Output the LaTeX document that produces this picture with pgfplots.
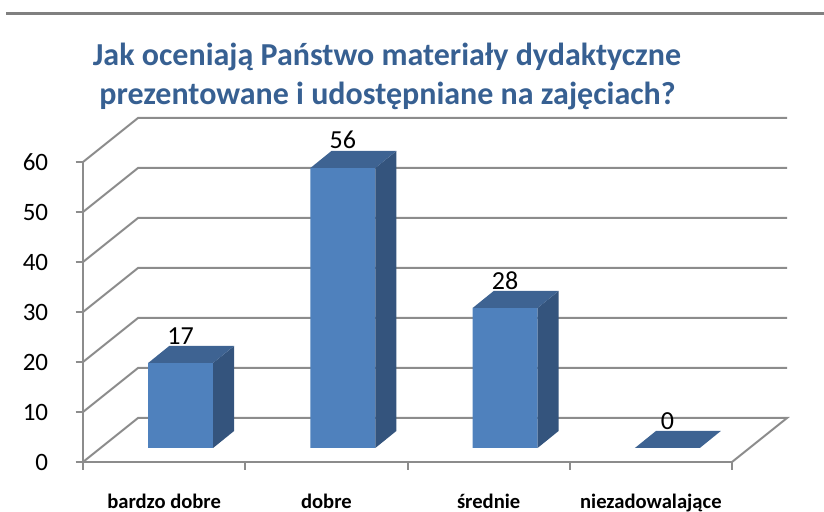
\documentclass[border=0pt]{standalone}
\usepackage{fontspec}
\setmainfont{Carlito}
\usepackage{pgfplots}
\pgfplotsset{compat=1.18}
\usepackage{pgfplotstable}

\definecolor{barfront}{RGB}{79,129,189}
\definecolor{bartop}{RGB}{62,99,146}
\definecolor{barside}{RGB}{52,84,125}
\definecolor{gridc}{RGB}{140,140,140}
\definecolor{titlec}{RGB}{55,96,146}

\pgfplotstableread{
x v
0 17
1 56
2 28
3 0
}\datatable

\pgfplotsset{/pgf/number format/assume math mode=true}

\begin{document}
\begin{tikzpicture}
\useasboundingbox (0,0) rectangle (412pt,256pt);
\draw[color={rgb,255:red,128;green,128;blue,128}, line width=1.1pt] (3pt,249.25pt) -- (412pt,249.25pt);
\node[anchor=base, inner sep=0pt, text=titlec, font=\fontsize{16}{19}\selectfont\bfseries] at (193.5pt,223pt) {Jak oceniają Państwo materiały dydaktyczne};
\node[anchor=base, inner sep=0pt, text=titlec, font=\fontsize{16}{19}\selectfont\bfseries] at (193.75pt,203.5pt) {prezentowane i udostępniane na zajęciach?};

% frame axis
\begin{axis}[
  at={(41.5pt,25pt)}, anchor=south west,
  scale only axis, width=324.5pt, height=150pt,
  xmin=-0.5, xmax=3.5, ymin=0, ymax=60,
  clip=false,
  axis lines*=left,
  axis line style={gridc, line width=1pt},
  xtick={0,1,2,3},
  xticklabels={bardzo dobre, dobre, średnie, niezadowalające},
  minor xtick={-0.5,0.5,1.5,2.5,3.5},
  ytick={0,10,20,30,40,50,60},
  tick align=outside,
  major tick length=3.75pt, minor tick length=4pt,
  major x tick style={draw=none},
  minor x tick style={gridc, line width=1pt},
  ytick style={gridc, line width=1pt},
  xticklabel style={font=\fontsize{10.3}{12}\selectfont\bfseries, anchor=base, inner sep=0pt, yshift=-19.5pt},
  yticklabel style={font=\fontsize{12.5}{15}\selectfont, anchor=east, inner sep=0pt, xshift=-13.5pt},
]
\draw[gridc, line width=1pt] (axis cs:-0.5,0) -- (axis cs:-0.161,8.8) -- (axis cs:3.839,8.8) -- (axis cs:3.5,0);
\draw[gridc, line width=1pt] (axis cs:-0.5,10) -- (axis cs:-0.161,18.8) -- (axis cs:3.839,18.8);
\draw[gridc, line width=1pt] (axis cs:-0.5,20) -- (axis cs:-0.161,28.8) -- (axis cs:3.839,28.8);
\draw[gridc, line width=1pt] (axis cs:-0.5,30) -- (axis cs:-0.161,38.8) -- (axis cs:3.839,38.8);
\draw[gridc, line width=1pt] (axis cs:-0.5,40) -- (axis cs:-0.161,48.8) -- (axis cs:3.839,48.8);
\draw[gridc, line width=1pt] (axis cs:-0.5,50) -- (axis cs:-0.161,58.8) -- (axis cs:3.839,58.8);
\draw[gridc, line width=1pt] (axis cs:-0.5,60) -- (axis cs:-0.161,68.8) -- (axis cs:3.839,68.8);
\end{axis}

% bars axis (shifted into depth)
\begin{axis}[
  at={(49.75pt,32pt)}, anchor=south west,
  scale only axis, width=324.5pt, height=150pt,
  xmin=-0.5, xmax=3.5, ymin=0, ymax=60,
  hide axis, clip=false,
]
\addplot[ybar, bar width=32.45pt, fill=barfront, draw=none,
  nodes near coords,
  nodes near coords style={font=\fontsize{13}{15}\selectfont, text=black, anchor=south, inner sep=0pt, yshift=9.2pt}]
  table[x=x, y=v] {\datatable};
% side faces
\addplot[fill=barside, draw=none] coordinates {(0.2,0) (0.3294,3.4) (0.3294,20.4) (0.2,17)};
\addplot[fill=barside, draw=none] coordinates {(1.2,0) (1.3294,3.4) (1.3294,59.4) (1.2,56)};
\addplot[fill=barside, draw=none] coordinates {(2.2,0) (2.3294,3.4) (2.3294,31.4) (2.2,28)};
% top faces
\addplot[fill=bartop, draw=none] coordinates {(-0.2,17) (0.2,17) (0.3294,20.4) (-0.0706,20.4)};
\addplot[fill=bartop, draw=none] coordinates {(0.8,56) (1.2,56) (1.3294,59.4) (0.9294,59.4)};
\addplot[fill=bartop, draw=none] coordinates {(1.8,28) (2.2,28) (2.3294,31.4) (1.9294,31.4)};
\addplot[fill=bartop, draw=none] coordinates {(2.8,0) (3.2,0) (3.3294,3.4) (2.9294,3.4)};
\end{axis}
\end{tikzpicture}
\end{document}
